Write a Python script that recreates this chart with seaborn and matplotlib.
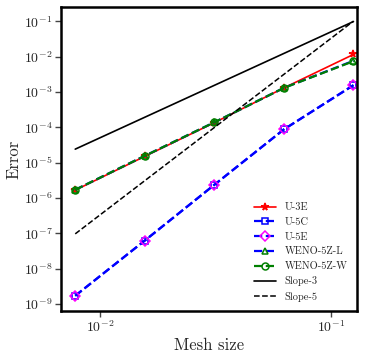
import numpy as np
import matplotlib
matplotlib.use("Agg")
import matplotlib.pyplot as plt
import seaborn as sns

h = [1/128, 1/64, 1/32, 1/16, 1/8]
u3e = [1.66e-6, 1.5e-5, 1.35e-4, 1.3e-3, 1.15e-2]
u5c = [1.7e-9, 6.2e-8, 2.35e-6, 8.7e-5, 1.55e-3]
u5e = [1.7e-9, 6.2e-8, 2.35e-6, 8.7e-5, 1.55e-3]
weno_l = [1.7e-6, 1.55e-5, 1.38e-4, 1.3e-3, 7.6e-3]
weno_w = [1.7e-6, 1.55e-5, 1.38e-4, 1.3e-3, 7.4e-3]
slope_h = [1/128, 1/8]
slope3 = [2.4e-5, 2.4e-5 * 16**3]
slope5 = [9.6e-8, 9.6e-8 * 16**5]

sns.set_theme(style="ticks")
plt.rcParams["font.family"] = ["cmr10", "DejaVu Serif"]
plt.rcParams["mathtext.fontset"] = "cm"
plt.rcParams["axes.formatter.use_mathtext"] = True
plt.rcParams["axes.unicode_minus"] = False

fig = plt.figure(figsize=(3.74, 3.57), dpi=100)
ax = fig.add_axes([0.163, 0.129, 0.792, 0.851])

series = [
    ("U-3E", u3e, dict(color="red", marker="*", linestyle="-", markersize=5.5, mfc="red", mec="red")),
    ("U-5C", u5c, dict(color="blue", marker="s", linestyle="--", markersize=5, mfc="none", mec="blue")),
    ("U-5E", u5e, dict(color="blue", marker="D", linestyle="--", markersize=5, mfc="none", mec="magenta")),
    ("WENO-5Z-L", weno_l, dict(color="blue", marker="^", linestyle="--", markersize=5, mfc="none", mec="green")),
    ("WENO-5Z-W", weno_w, dict(color="green", marker="o", linestyle="--", markersize=5, mfc="none", mec="green")),
]
for name, y, kw in series:
    sns.lineplot(x=h, y=y, ax=ax, label=name, color=kw["color"], marker=kw["marker"],
                 linestyle=kw["linestyle"], markersize=kw["markersize"],
                 markerfacecolor=kw["mfc"], markeredgecolor=kw["mec"], markeredgewidth=1.1,
                 linewidth=1.6 if kw["linestyle"] == "--" else 1.2)
sns.lineplot(x=slope_h, y=slope3, ax=ax, label="Slope-3", color="black", linestyle="-", linewidth=1.2)
sns.lineplot(x=slope_h, y=slope5, ax=ax, label="Slope-5", color="black", linestyle="--", linewidth=1.1)

ax.set_xscale("log")
ax.set_yscale("log")
ax.set_xlim(10**-2.169, 10**-0.887)
ax.set_ylim(10**-9.2, 10**-0.6)
ax.set_yticks([10.0**k for k in range(-9, 0)])
ax.set_xticks([1e-2, 1e-1])
ax.minorticks_off()
ax.tick_params(direction="out", length=4, width=1, labelsize=10, pad=2, color="#444444")
for s in ax.spines.values():
    s.set_linewidth(1.8)
    s.set_color("black")
ax.set_xlabel("Mesh size", fontsize=12, labelpad=2)
ax.set_ylabel("Error", fontsize=12, labelpad=2)
ax.legend(loc="lower right", frameon=False, fontsize=7.5, handlelength=2.2,
          bbox_to_anchor=(1.0, 0.0), labelspacing=0.5)
fig.savefig("out.png", dpi=100)
